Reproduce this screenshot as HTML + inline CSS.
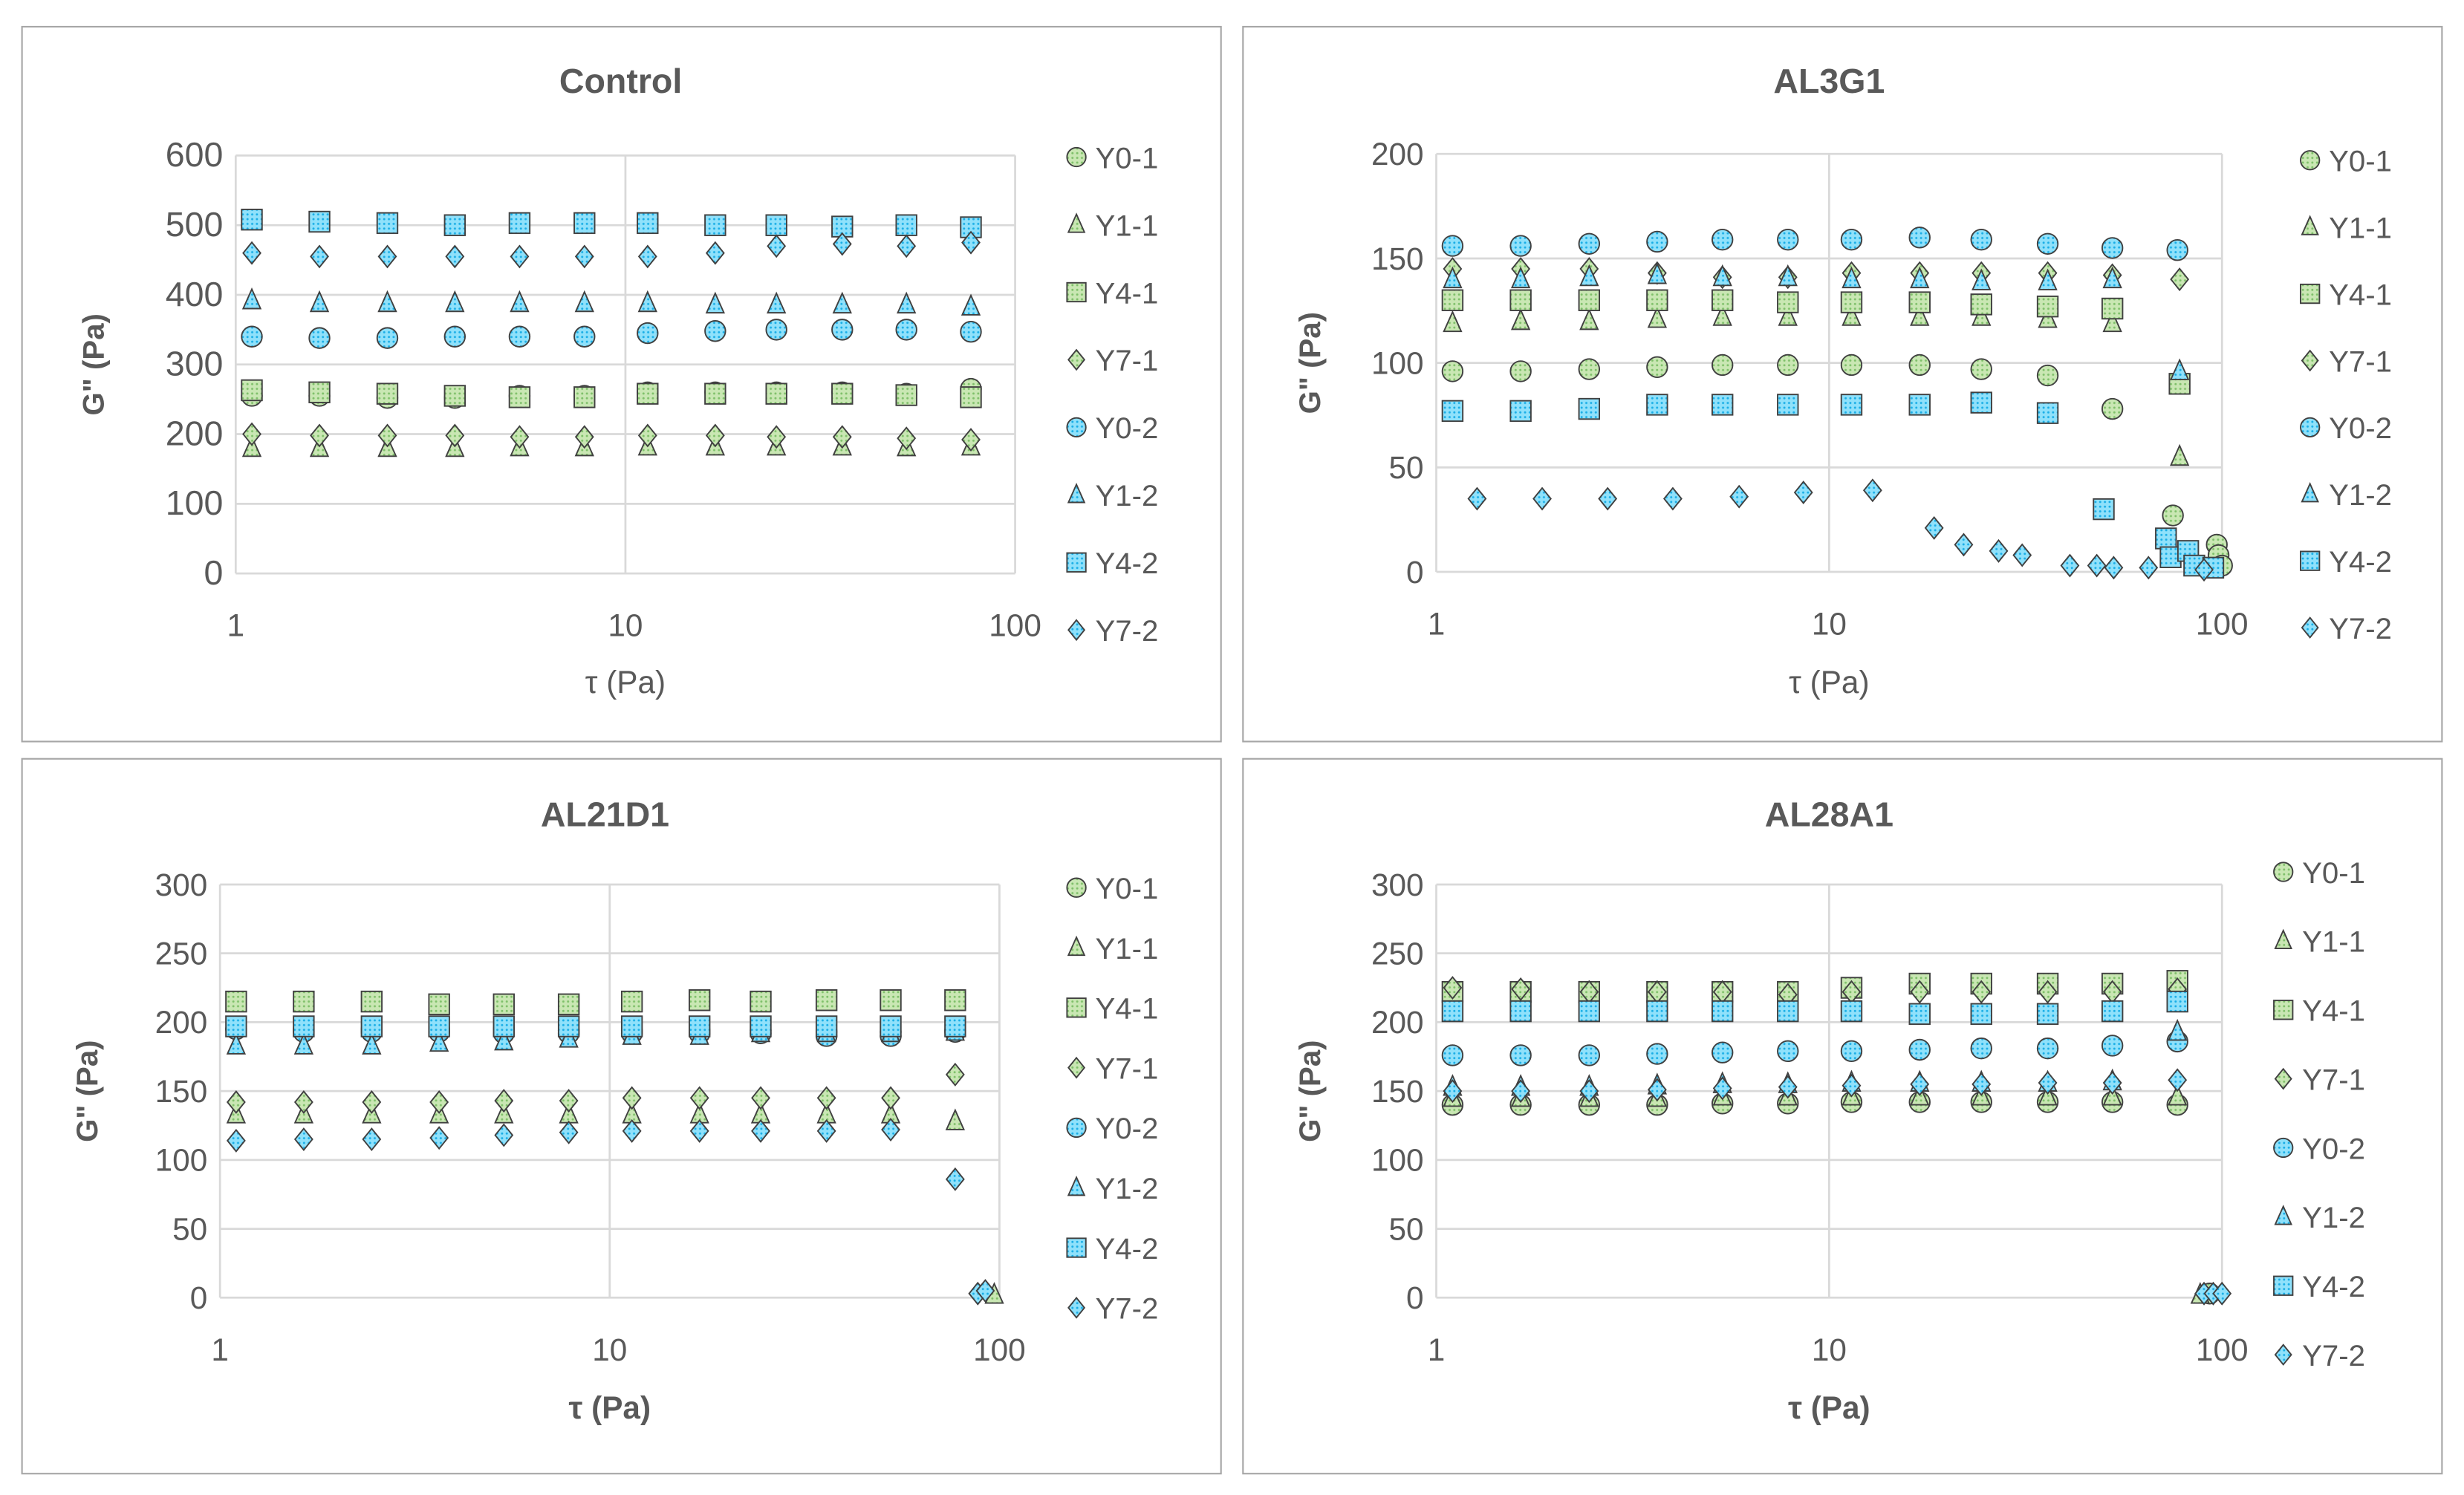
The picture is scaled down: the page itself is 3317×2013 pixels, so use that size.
<!DOCTYPE html>
<html><head><meta charset="utf-8"><style>
html,body{margin:0;padding:0;background:#fff}
svg{display:block}
text{font-family:"Liberation Sans",sans-serif;fill:#595959}
</style></head><body>
<svg id="chart" width="3317" height="2013" viewBox="0 0 1568 951.6" preserveAspectRatio="none" xmlns="http://www.w3.org/2000/svg">
<defs>
<pattern id="pg" width="3" height="3" patternUnits="userSpaceOnUse"><rect width="3" height="3" fill="#c9e7b3"/><circle cx="1.5" cy="1.5" r="0.7" fill="#7fc06a"/></pattern>
<pattern id="pb" width="3" height="3" patternUnits="userSpaceOnUse"><rect width="3" height="3" fill="#8fe1fb"/><circle cx="1.5" cy="1.5" r="0.7" fill="#1aaee6"/></pattern>
</defs>
</svg>
<script>
const xs = [1.1,1.64,2.45,3.65,5.35,7.85,11.4,17,24.4,36,52.6,77];
const seriesNames = ["Y0-1","Y1-1","Y4-1","Y7-1","Y0-2","Y1-2","Y4-2","Y7-2"];
const seriesShapes = ["circle","triangle","square","diamond","circle","triangle","square","diamond"];
// Control
const ctrlY01 = [255,255,252,252,255,255,260,260,260,260,258,265];
const ctrlY11 = [180,180,180,180,181,181,182,182,182,182,181,182];
const ctrlY41 = [263,260,258,255,253,253,258,258,258,258,256,253];
const ctrlY71 = [200,198,198,198,196,196,198,198,196,196,194,192];
const ctrlY02 = [340,338,338,340,340,340,345,348,350,350,350,347];
const ctrlY12 = [392,388,388,388,388,388,388,386,386,386,386,383];
const ctrlY42 = [508,505,503,500,503,503,503,500,500,498,500,497];
const ctrlY72 = [460,455,455,455,455,455,455,460,470,473,470,475];
// AL3G1
const a3Y01x = [1.1,1.64,2.45,3.65,5.35,7.85,11.4,17,24.4,36,52.6,75,97,98,100];
const a3Y01 = [96,96,97,98,99,99,99,99,97,94,78,27,13,8,3];
const a3Y11x = [1.1,1.64,2.45,3.65,5.35,7.85,11.4,17,24.4,36,52.6,78];
const a3Y11 = [119,120,120,121,122,122,122,122,122,121,119,55];
const a3Y41 = [130,130,130,130,130,129,129,129,128,127,126,90];
const a3Y71 = [145,145,145,143,141,141,143,143,143,143,142,140];
const a3Y02 = [156,156,157,158,159,159,159,160,159,157,155,154];
const a3Y12 = [140,140,141,142,141,141,140,140,139,139,140,96];
const a3Y42x = [1.1,1.64,2.45,3.65,5.35,7.85,11.4,17,24.4,36,50,72,74,82,85,95];
const a3Y42 = [77,77,78,80,80,80,80,80,81,76,30,16,7,10,3,2];
const a3Y72x = [1.27,1.86,2.73,4.0,5.9,8.6,12.9,18.5,22,27,31,41,48,53,65,90];
const a3Y72 = [35,35,35,35,36,38,39,21,13,10,8,3,3,2,2,1];
// AL21D1
const a21Y01 = [195,195,195,195,195,194,194,194,194,193,193,194];
const a21Y11x = [1.1,1.64,2.45,3.65,5.35,7.85,11.4,17,24.4,36,52.6,77,97];
const a21Y11 = [133,133,133,133,133,133,133,133,133,133,133,128,2];
const a21Y41 = [215,215,215,213,213,213,215,216,215,216,216,216];
const a21Y71 = [142,142,142,142,143,143,145,145,145,145,145,162];
const a21Y02 = [195,193,193,193,192,192,192,192,192,190,190,193];
const a21Y12 = [183,183,183,185,186,188,190,190,192,192,192,193];
const a21Y42 = [197,197,197,197,197,197,197,197,197,197,197,197];
const a21Y72x = [1.1,1.64,2.45,3.65,5.35,7.85,11.4,17,24.4,36,52.6,77,88,92];
const a21Y72 = [114,115,115,116,118,120,121,121,121,121,122,86,3,5];
// AL28A1
const a28Y01x = [1.1,1.64,2.45,3.65,5.35,7.85,11.4,17,24.4,36,52.6,77,93];
const a28Y01 = [140,140,140,140,141,141,142,142,142,142,142,140,3];
const a28Y11x = [1.1,1.64,2.45,3.65,5.35,7.85,11.4,17,24.4,36,52.6,77,88];
const a28Y11 = [145,145,145,145,146,146,146,146,146,146,146,146,2];
const a28Y41 = [222,222,222,222,222,222,225,228,228,228,228,230];
const a28Y71 = [225,224,222,222,222,220,222,222,222,222,222,224];
const a28Y02 = [176,176,176,177,178,179,179,180,181,181,183,186];
const a28Y12 = [153,153,153,154,155,155,156,156,156,156,157,193];
const a28Y42 = [208,208,208,208,208,208,208,206,206,206,208,215];
const a28Y72x = [1.1,1.64,2.45,3.65,5.35,7.85,11.4,17,24.4,36,52.6,77,90,95,100];
const a28Y72 = [150,150,150,151,152,153,154,155,155,156,156,158,3,3,3];

const NS="http://www.w3.org/2000/svg";
const svg=document.getElementById('chart');
function el(tag,attrs,parent){const e=document.createElementNS(NS,tag);for(const k in attrs)e.setAttribute(k,attrs[k]);(parent||svg).appendChild(e);return e;}
function txt(parent,x,y,s,size,anchor,weight){const t=el('text',{x:x,y:y,'font-size':size,'text-anchor':anchor||'middle','font-weight':weight||'normal'},parent);t.textContent=s;return t;}
function marker(g,shape,fill,cx,cy,r){
  let m;
  if(shape==='circle') m=el('circle',{cx:cx,cy:cy,r:r},g);
  else if(shape==='square') m=el('rect',{x:cx-r,y:cy-r,width:2*r,height:2*r},g);
  else if(shape==='triangle') m=el('polygon',{points:`${cx},${cy-r*1.1} ${cx+r*0.85},${cy+r*0.8} ${cx-r*0.85},${cy+r*0.8}`},g);
  else m=el('polygon',{points:`${cx},${cy-r*1.05} ${cx+r*0.85},${cy} ${cx},${cy+r*1.05} ${cx-r*0.85},${cy}`},g);
  m.setAttribute('fill',fill);m.setAttribute('stroke','#404040');m.setAttribute('stroke-width','0.9');
  return m;
}
function panel(cfg){
  const g=el('g',{});
  
  
  el('rect',{x:cfg.bx,y:cfg.by,width:763,height:455,fill:'#fff',stroke:'#a6a6a6','stroke-width':1},g);
  const t=txt(g,cfg.tx,cfg.ty,cfg.title,22,'middle','bold');
  
  
  const L=cfg.px0,R=cfg.px1,T=cfg.py0,B=cfg.py1;
  const xScale=v=>L+(R-L)*Math.log10(v)/2;
  const yScale=v=>B-(B-T)*v/cfg.ymax;
  for(let v=0;v<=cfg.ymax;v+=cfg.ystep){
    el('line',{x1:L,x2:R,y1:yScale(v),y2:yScale(v),stroke:'#d9d9d9','stroke-width':1.3},g);
    const tl=txt(g,L-8,yScale(v)+7,String(v),cfg.yfs,'end');
    
    
  }
  [1,10,100].forEach(v=>{
    el('line',{x1:xScale(v),x2:xScale(v),y1:T,y2:B,stroke:'#d9d9d9','stroke-width':1.3},g);
    const tl=txt(g,xScale(v),B+40,String(v),20,'middle');
    
    
  });
  const xl=txt(g,(L+R)/2,cfg.xly,'τ (Pa)',20,'middle',cfg.boldAxis?'bold':'normal');
  
  
  const yl=txt(g,0,0,'G" (Pa)',19,'middle','bold');
  yl.setAttribute('transform',`translate(${cfg.ylx},${(T+B)/2}) rotate(-90)`);
  
  
  cfg.series.forEach((s,i)=>{
    const sg=el('g',{},g);
    
    
    const fill=i<4?'url(#pg)':'url(#pb)';
    s.y.forEach((v,j)=>{
      const m=marker(sg,seriesShapes[i],fill,xScale(s.x[j]),yScale(v),6.5);
      
      
    });
    const lg=el('g',{},g);
    
    
    const ly=cfg.ly0+i*cfg.ldy;
    marker(lg,seriesShapes[i],fill,cfg.lx,ly,6);
    txt(lg,cfg.lx+12,ly+7,seriesNames[i],19,'start');
  });
}
panel({name:'control',title:'Control',bx:14,by:17,tx:395,ty:59,px0:150,px1:646,py0:99,py1:365,ymax:600,ystep:100,yfs:22,xly:441,ylx:66,boldAxis:false,lx:685,ly0:100,ldy:43,
 series:[{x:xs,y:ctrlY01},{x:xs,y:ctrlY11},{x:xs,y:ctrlY41},{x:xs,y:ctrlY71},{x:xs,y:ctrlY02},{x:xs,y:ctrlY12},{x:xs,y:ctrlY42},{x:xs,y:ctrlY72}]});
panel({name:'al3g1',title:'AL3G1',bx:791,by:17,tx:1164,ty:59,px0:914,px1:1414,py0:98,py1:364,ymax:200,ystep:50,yfs:20,xly:441,ylx:840,boldAxis:false,lx:1470,ly0:102,ldy:42.5,
 series:[{x:a3Y01x,y:a3Y01},{x:a3Y11x,y:a3Y11},{x:a3Y11x,y:a3Y41},{x:a3Y11x,y:a3Y71},{x:xs,y:a3Y02},{x:a3Y11x,y:a3Y12},{x:a3Y42x,y:a3Y42},{x:a3Y72x,y:a3Y72}]});
panel({name:'al21d1',title:'AL21D1',bx:14,by:483,tx:385,ty:526,px0:140,px1:636,py0:563,py1:826,ymax:300,ystep:50,yfs:20,xly:903,ylx:62,boldAxis:true,lx:685,ly0:565,ldy:38.2,
 series:[{x:xs,y:a21Y01},{x:a21Y11x,y:a21Y11},{x:xs,y:a21Y41},{x:xs,y:a21Y71},{x:xs,y:a21Y02},{x:xs,y:a21Y12},{x:xs,y:a21Y42},{x:a21Y72x,y:a21Y72}]});
panel({name:'al28a1',title:'AL28A1',bx:791,by:483,tx:1164,ty:526,px0:914,px1:1414,py0:563,py1:826,ymax:300,ystep:50,yfs:20,xly:903,ylx:840,boldAxis:true,lx:1453,ly0:555,ldy:43.9,
 series:[{x:a28Y01x,y:a28Y01},{x:a28Y11x,y:a28Y11},{x:xs,y:a28Y41},{x:xs,y:a28Y71},{x:xs,y:a28Y02},{x:xs,y:a28Y12},{x:xs,y:a28Y42},{x:a28Y72x,y:a28Y72}]});
</script>
</body></html>
